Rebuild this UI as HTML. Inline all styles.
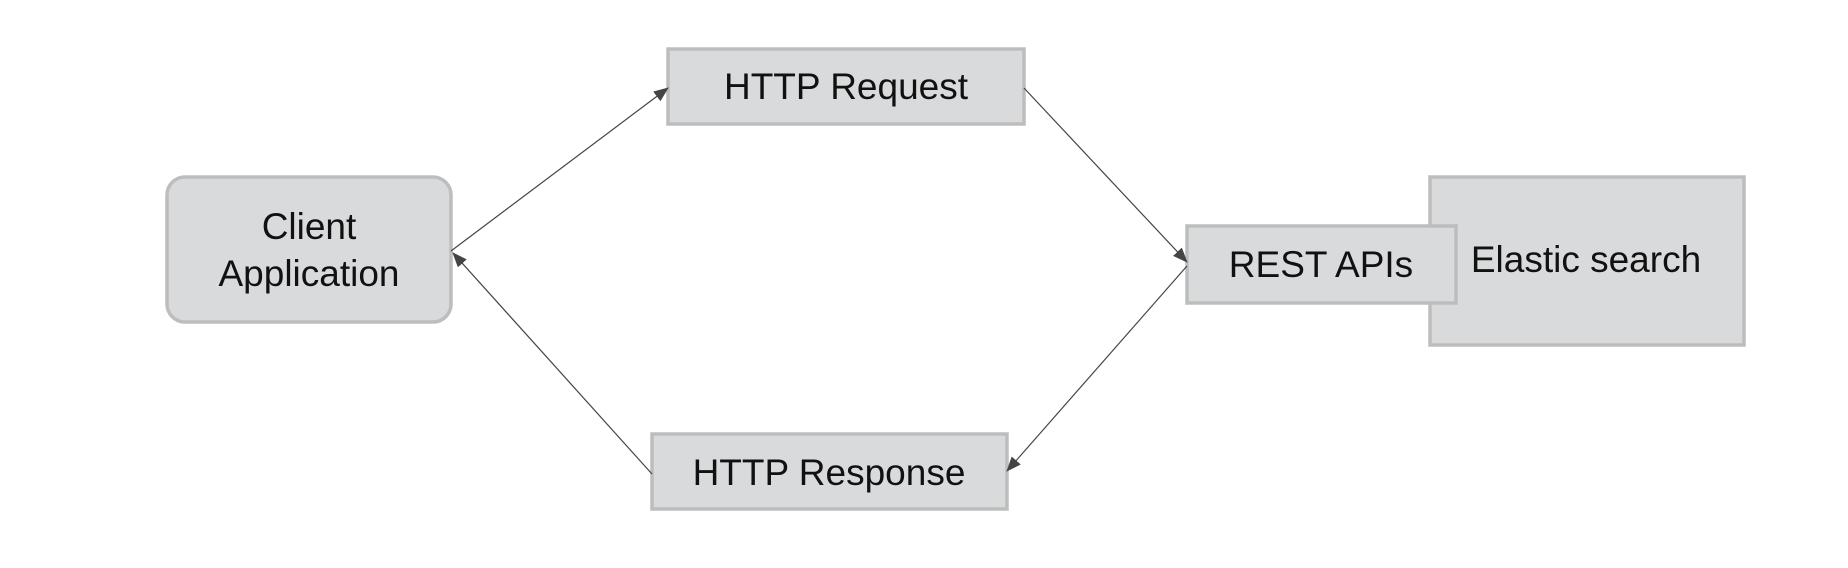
<!DOCTYPE html>
<html><head><style>
body{margin:0;background:#fff;}
svg text{font-family:"Liberation Sans",sans-serif;font-size:37px;fill:#111;text-anchor:middle;dominant-baseline:middle;}
</style></head><body>
<svg width="1848" height="563" viewBox="0 0 1848 563" xmlns="http://www.w3.org/2000/svg">
<defs><marker id="a" markerWidth="15" markerHeight="12" refX="14" refY="6" orient="auto" markerUnits="userSpaceOnUse"><path d="M0,0 L15,6 L0,12 z" fill="#444"/></marker></defs>
<g fill="#d9dadc" stroke="#bdbdbd" stroke-width="3.5">
<rect x="668" y="49" width="356" height="75"/>
<rect x="167" y="177" width="284" height="145" rx="18"/>
<rect x="1430" y="177" width="314" height="168"/>
<rect x="1187" y="226" width="269" height="77"/>
<rect x="652" y="434" width="355" height="75"/>
</g>
<g stroke="#444" stroke-width="1.2" fill="none">
<line x1="451" y1="251" x2="668" y2="88" marker-end="url(#a)"/>
<line x1="1024" y1="88" x2="1187" y2="262" marker-end="url(#a)"/>
<line x1="1187" y1="266" x2="1007" y2="471" marker-end="url(#a)"/>
<line x1="652" y1="474" x2="453" y2="253" marker-end="url(#a)"/>
</g>
<text x="846" y="89">HTTP Request</text>
<text x="309" y="229">Client</text>
<text x="309" y="276">Application</text>
<text x="1586" y="262">Elastic search</text>
<text x="1321" y="267">REST APIs</text>
<text x="829" y="475">HTTP Response</text>
</svg>
</body></html>
